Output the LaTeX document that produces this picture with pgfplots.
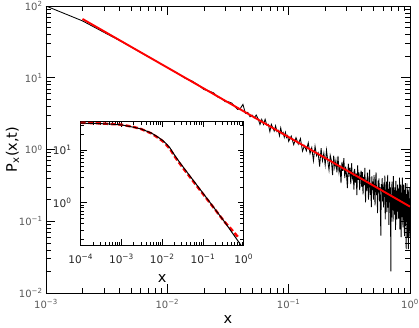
\documentclass[border=0pt]{standalone}
\usepackage{pgfplots}
\pgfplotsset{compat=1.18}
\usepackage{fontspec}
\setmainfont{DejaVu Sans}
\begin{document}
\begin{tikzpicture}
\path[use as bounding box] (0,0) rectangle (419pt,327pt);
\begin{axis}[
  at={(46pt,34pt)}, anchor=south west, scale only axis,
  width=364pt, height=287pt,
  xmode=log, ymode=log, xmin=1e-3, xmax=1, ymin=1e-2, ymax=1e2,
  tick align=inside, major tick length=9pt, minor tick length=5pt,
  every tick/.append style={black, line width=0.6pt},
  axis line style={line width=0.8pt},
  xtick={0.001,0.01,0.1,1},
  xticklabels={10\textsuperscript{−3},10\textsuperscript{−2},10\textsuperscript{−1},10\textsuperscript{0}},
  minor xtick={0.002,0.003,0.004,0.005,0.006,0.007,0.008,0.009,0.02,0.03,0.04,0.05,0.06,0.07,0.08,0.09,0.2,0.3,0.4,0.5,0.6,0.7,0.8,0.9},
  ytick={0.01,0.1,1,10,100},
  yticklabels={10\textsuperscript{−2},10\textsuperscript{−1},10\textsuperscript{0},10\textsuperscript{1},10\textsuperscript{2}},
  minor ytick={0.02,0.03,0.04,0.05,0.06,0.07,0.08,0.09,0.2,0.3,0.4,0.5,0.6,0.7,0.8,0.9,2,3,4,5,6,7,8,9,20,30,40,50,60,70,80,90},
  tick label style={font=\fontsize{10}{12}\selectfont, text=black!65},
  xticklabel style={yshift=-3pt},
  xlabel={x}, ylabel={P\textsubscript{x}(x,t)},
  xlabel style={at={(axis description cs:0.5,-0.094)}, anchor=center, font=\fontsize{14.5}{17}\selectfont},
  ylabel style={at={(axis description cs:-0.092,0.5)}, anchor=center, font=\fontsize{14.5}{17}\selectfont},
]
\addplot[black, line width=0.85pt] coordinates {
(0.001,100) (0.002,62) (0.003,43) (0.004,33.3) (0.005,27.0) (0.006,22.6) (0.007,19.5) (0.008,17.3) (0.009,15.3) (0.010,13.9)
(0.012,11.70) (0.014,9.84) (0.016,8.99) (0.018,7.91) (0.020,6.87) (0.022,6.54) (0.024,6.17) (0.026,5.40) (0.028,5.15) (0.030,4.63)
(0.032,4.62) (0.034,4.43) (0.036,3.97) (0.038,3.62) (0.040,3.75) (0.042,4.25) (0.044,3.20) (0.046,3.30) (0.048,2.86) (0.050,3.01)
(0.052,2.76) (0.054,3.02) (0.056,2.67) (0.058,2.23) (0.060,2.63) (0.062,2.24) (0.064,2.63) (0.066,2.19) (0.068,2.25) (0.070,1.78)
(0.072,2.24) (0.074,2.00) (0.076,1.81) (0.078,2.14) (0.080,1.78) (0.082,1.85) (0.084,1.56) (0.086,2.00) (0.088,1.67) (0.090,1.74)
(0.092,1.48) (0.094,1.73) (0.096,1.47) (0.098,1.56) (0.100,1.30)
(0.105,1.54) (0.110,1.17) (0.115,1.46) (0.120,1.19) (0.125,1.42) (0.130,0.95) (0.135,1.13) (0.140,0.96) (0.145,1.24) (0.150,0.88)
(0.155,1.06) (0.160,0.70) (0.165,1.11) (0.170,0.82) (0.175,0.90) (0.180,0.58) (0.185,1.04) (0.190,0.70) (0.195,0.89) (0.200,0.61)
(0.205,0.98) (0.210,0.70) (0.215,0.52) (0.220,0.83) (0.225,0.70) (0.230,0.44) (0.235,0.82) (0.240,0.565) (0.245,0.70) (0.250,0.48)
(0.255,0.815) (0.260,0.485) (0.265,0.61) (0.270,0.34) (0.275,0.67) (0.280,0.505) (0.285,0.755) (0.290,0.40) (0.295,0.575) (0.300,0.437)
(0.305,0.29) (0.310,0.635) (0.315,0.464) (0.320,0.554) (0.325,0.33) (0.330,0.643) (0.335,0.405) (0.340,0.461) (0.345,0.277) (0.350,0.537)
(0.355,0.347) (0.360,0.462) (0.365,0.232) (0.370,0.603) (0.375,0.377) (0.380,0.479) (0.385,0.272) (0.390,0.394) (0.395,0.507) (0.400,0.301)
(0.405,0.485) (0.410,0.237) (0.415,0.416) (0.420,0.318) (0.425,0.555) (0.430,0.183) (0.435,0.378) (0.440,0.267) (0.445,0.475) (0.450,0.32)
(0.455,0.20) (0.460,0.41) (0.465,0.524) (0.470,0.234) (0.475,0.323) (0.480,0.157) (0.485,0.421) (0.490,0.272) (0.495,0.356) (0.500,0.201)
(0.505,0.44) (0.510,0.277) (0.515,0.167) (0.520,0.356) (0.525,0.48) (0.530,0.231) (0.535,0.30) (0.540,0.13) (0.545,0.369) (0.550,0.252)
(0.555,0.395) (0.560,0.19) (0.565,0.30) (0.570,0.144) (0.575,0.063) (0.580,0.329) (0.585,0.255) (0.590,0.40) (0.595,0.19) (0.600,0.301)
(0.605,0.156) (0.610,0.348) (0.615,0.218) (0.620,0.432) (0.625,0.106) (0.630,0.275) (0.635,0.186) (0.640,0.357) (0.645,0.134) (0.650,0.242)
(0.655,0.444) (0.660,0.155) (0.665,0.283) (0.670,0.089) (0.675,0.213) (0.680,0.357) (0.685,0.184) (0.690,0.296) (0.695,0.02) (0.700,0.235)
(0.705,0.113) (0.710,0.358) (0.715,0.195) (0.720,0.275) (0.725,0.099) (0.730,0.425) (0.735,0.151) (0.740,0.246) (0.745,0.124) (0.750,0.297)
(0.755,0.20) (0.760,0.076) (0.765,0.364) (0.770,0.169) (0.775,0.268) (0.780,0.106) (0.785,0.212) (0.790,0.323) (0.795,0.136) (0.800,0.238)
(0.805,0.109) (0.810,0.284) (0.815,0.176) (0.820,0.407) (0.825,0.077) (0.830,0.221) (0.835,0.137) (0.840,0.323) (0.845,0.06) (0.850,0.197)
(0.855,0.251) (0.860,0.114) (0.865,0.405) (0.870,0.155) (0.875,0.082) (0.880,0.225) (0.885,0.324) (0.890,0.103) (0.895,0.178) (0.900,0.062)
(0.905,0.273) (0.910,0.136) (0.915,0.339) (0.920,0.086) (0.925,0.206) (0.930,0.041) (0.935,0.238) (0.940,0.116) (0.945,0.336) (0.950,0.151)
(0.955,0.06) (0.960,0.274) (0.965,0.18) (0.970,0.041) (0.975,0.246) (0.980,0.097) (0.985,0.30) (0.990,0.12) (0.995,0.061) (1.000,0.208)
};
\addplot[red, line width=1.9pt] coordinates {(0.002,66) (1,0.16)};
\end{axis}
\begin{axis}[
  at={(80.7pt,81.7pt)}, anchor=south west, scale only axis,
  width=163pt, height=124pt,
  xmode=log, ymode=log, xmin=1e-4, xmax=1, ymin=0.154, ymax=35.7,
  axis background/.style={fill=white},
  tick align=inside, major tick length=6pt, minor tick length=3.5pt,
  every tick/.append style={black, line width=0.6pt},
  axis line style={line width=0.8pt},
  xtick={0.0001,0.001,0.01,0.1,1},
  xticklabels={10\textsuperscript{−4},10\textsuperscript{−3},10\textsuperscript{−2},10\textsuperscript{−1},10\textsuperscript{0}},
  minor xtick={0.0002,0.0003,0.0004,0.0005,0.0006,0.0007,0.0008,0.0009,0.002,0.003,0.004,0.005,0.006,0.007,0.008,0.009,0.02,0.03,0.04,0.05,0.06,0.07,0.08,0.09,0.2,0.3,0.4,0.5,0.6,0.7,0.8,0.9},
  ytick={1,10},
  yticklabels={10\textsuperscript{0},10\textsuperscript{1}},
  minor ytick={0.2,0.3,0.4,0.5,0.6,0.7,0.8,0.9,2,3,4,5,6,7,8,9,20,30},
  tick label style={font=\fontsize{10.5}{12}\selectfont, text=black!85},
  xticklabel style={yshift=-5.4pt},
  yticklabel style={xshift=-5.7pt},
  xlabel={x},
  xlabel style={at={(axis description cs:0.5,-0.272)}, anchor=center, font=\fontsize{14.5}{17}\selectfont},
]
\addplot[red, line width=2.4pt, dash pattern=on 5pt off 2.5pt] coordinates {
(0.0001,33.5) (0.0003,32.6) (0.001,30.8) (0.002,27.8) (0.003,25.5) (0.0054,21.0) (0.0075,17.8) (0.0102,15.0) (0.0125,12.8) (0.0155,10.6) (0.018,8.8) (0.0203,7.6) (0.025,6.05) (0.035,4.25) (0.093,1.58) (0.16,0.92) (0.34,0.43) (0.5,0.31) (0.75,0.215)
};
\addplot[black, line width=1pt] coordinates {
(0.0001,32.9) (0.0002,32.6) (0.0005,31.7) (0.001,30.5) (0.002,27.5) (0.003,25.6) (0.0054,21.4) (0.0075,18.3) (0.0102,15.5) (0.0125,13.4) (0.0155,11.1) (0.018,9.2) (0.0203,8.0) (0.025,6.35) (0.035,4.46) (0.093,1.64) (0.16,0.94) (0.34,0.43) (0.86,0.154) (1.0,0.131)
};
\end{axis}
\end{tikzpicture}
\end{document}
